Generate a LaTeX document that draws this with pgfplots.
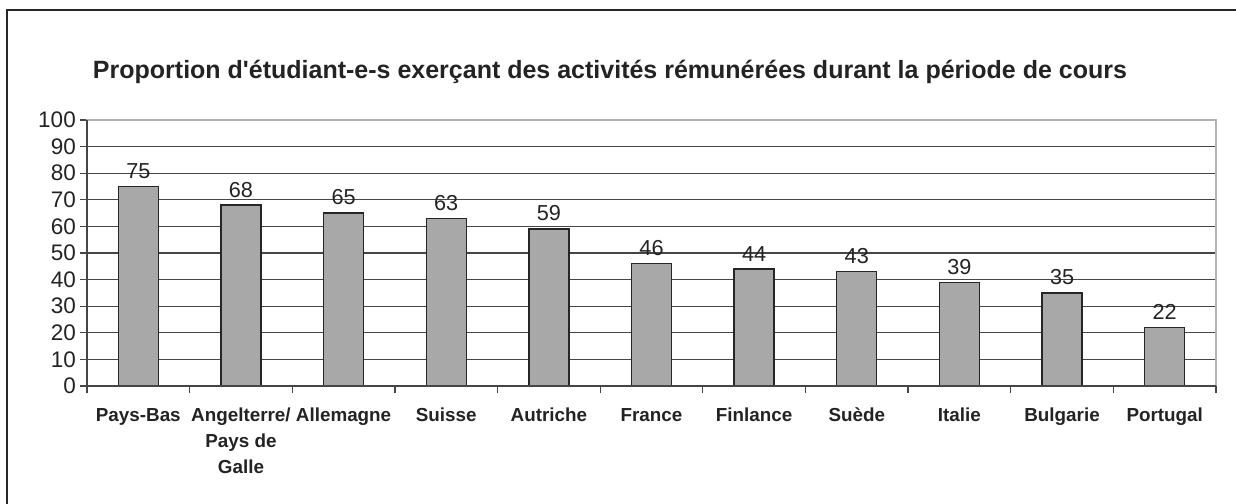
\documentclass[border=0pt]{standalone}
\usepackage{fontspec}
\setmainfont{Liberation Sans}
\usepackage{pgfplots}
\pgfplotsset{compat=1.18}
\definecolor{barfill}{RGB}{168,168,168}
\definecolor{gridc}{RGB}{70,70,70}
\definecolor{txt}{RGB}{35,35,35}

\begin{document}
\begin{tikzpicture}
  \useasboundingbox (0,0) rectangle (741.6pt,302.4pt);
  \draw[line width=1pt, black!85] (4.2pt,0) -- (4.2pt,296.4pt) -- (741.6pt,296.4pt);
  \node[font=\bfseries\fontsize{15}{17}\selectfont, text=txt] at (366pt,259.2pt)
    {Proportion d\textquotesingle étudiant-e-s exerçant des activités rémunérées durant la période de cours};
  \begin{axis}[
    at={(52.2pt,70.8pt)}, anchor=south west,
    scale only axis,
    width=677.4pt, height=159.6pt,
    ybar, bar width=24pt,
    xmin=-0.5, xmax=10.5,
    ymin=0, ymax=100,
    ytick={0,10,...,100},
    ytick pos=left,
    xtick={0,...,10},
    xticklabels={\strut Pays-Bas, {\strut Angelterre/\\Pays de\\Galle}, \strut Allemagne,
                 \strut Suisse, \strut Autriche, \strut France, \strut Finlance,
                 \strut Suède, \strut Italie, \strut Bulgarie, \strut Portugal},
    x tick label style={font=\bfseries\fontsize{11.3}{15.5}\selectfont, text=txt,
                        align=center, anchor=north, yshift=-3pt},
    y tick label style={font=\fontsize{13.5}{15}\selectfont, text=txt, xshift=1pt},
    /pgf/number format/assume math mode=true,
    xtick style={draw=none},
    tick align=outside,
    major tick length=4.2pt,
    ytick style={draw=gridc, line width=0.8pt},
    ymajorgrids,
    grid style={draw=gridc, line width=0.8pt},
    axis line style={draw=gray!60, line width=0.8pt},
    nodes near coords,
    every node near coord/.append style={font=\fontsize{13}{15}\selectfont, text=txt, yshift=1pt},
    clip=false,
  ]
    \addplot[fill=barfill, draw=black!85, line width=0.8pt] coordinates {
      (0,75) (1,68) (2,65) (3,63) (4,59) (5,46) (6,44) (7,43) (8,39) (9,35) (10,22)
    };
    \draw[gridc, line width=1pt] (rel axis cs:0,1) -- (rel axis cs:0,0) -- (rel axis cs:1,0);
    \pgfplotsinvokeforeach{-0.5,0.5,1.5,2.5,3.5,4.5,5.5,6.5,7.5,8.5,9.5,10.5}{
      \draw[gridc, line width=0.8pt] (axis cs:#1,0) -- ([yshift=-4.2pt]axis cs:#1,0);
    }
  \end{axis}
\end{tikzpicture}
\end{document}
